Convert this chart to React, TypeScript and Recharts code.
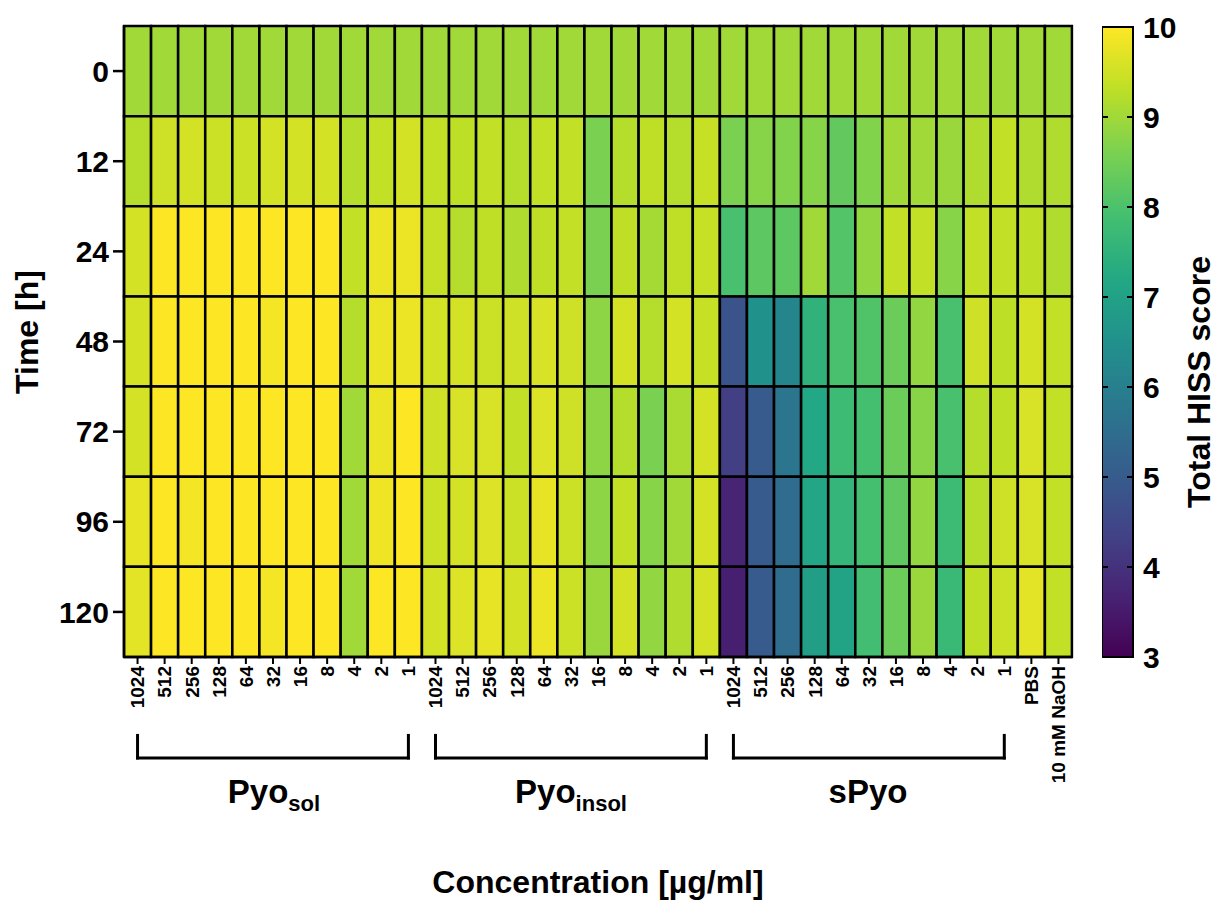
import { BarChart, Bar, Cell, XAxis, YAxis, ReferenceLine } from 'recharts';

const FONT = '"Liberation Sans", Arial, sans-serif';

const concLabels = ['1024', '512', '256', '128', '64', '32', '16', '8', '4', '2', '1'];
const columnLabels = [...concLabels, ...concLabels, ...concLabels, 'PBS', '10 mM NaOH'];
const timeLabels = ['0', '12', '24', '48', '72', '96', '120'];

// Pyo_sol (11) | Pyo_insol (11) | sPyo (11) | PBS | 10 mM NaOH
const score0h = [
  9.0, 9.0, 9.0, 9.0, 9.0, 9.0, 9.0, 9.0, 9.0, 9.0, 9.0,
  9.0, 9.0, 9.0, 9.0, 9.0, 9.0, 9.0, 9.0, 9.0, 9.0, 9.0,
  9.0, 9.0, 9.0, 9.0, 9.0, 9.0, 9.0, 9.0, 9.0, 9.0, 9.0,
  9.0, 9.0,
];
const score12h = [
  9.22, 9.5, 9.55, 9.45, 9.45, 9.55, 9.55, 9.55, 9.22, 9.35, 9.55,
  9.35, 9.3, 9.35, 9.22, 9.35, 9.35, 8.6, 9.22, 9.32, 9.22, 9.4,
  8.6, 8.75, 8.68, 8.75, 8.3, 8.68, 9.0, 9.0, 8.92, 9.15, 9.35,
  9.15, 9.15,
];
const score24h = [
  9.55, 10, 10, 10, 10, 10, 10, 10, 9.35, 9.8, 9.8,
  9.4, 9.22, 9.32, 9.15, 9.32, 9.38, 8.6, 9.32, 9.05, 9.32, 9.4,
  7.95, 8.22, 8.22, 9.0, 8.1, 8.85, 9.35, 9.35, 8.75, 9.35, 9.35,
  9.3, 9.15,
];
const score48h = [
  9.55, 10, 10, 10, 10, 9.9, 10, 10, 9.22, 9.8, 9.8,
  9.55, 9.55, 9.45, 9.5, 9.6, 9.5, 8.8, 9.55, 9.22, 9.55, 9.4,
  4.8, 6.5, 6.15, 7.5, 7.95, 8.05, 8.4, 8.85, 7.95, 9.5, 9.3,
  9.55, 9.35,
];
const score72h = [
  9.55, 10, 10, 10, 10, 10, 10, 10, 9.0, 9.8, 10,
  9.5, 9.6, 9.6, 9.35, 9.65, 9.5, 8.8, 9.22, 8.6, 9.1, 9.55,
  4.3, 5.0, 5.75, 7.2, 7.75, 7.9, 8.4, 8.75, 7.95, 9.22, 9.3,
  9.6, 9.35,
];
const score96h = [
  9.75, 10, 9.9, 10, 10, 10, 10, 10, 9.0, 9.85, 10,
  9.45, 9.55, 9.65, 9.45, 9.75, 9.45, 8.8, 9.35, 8.75, 9.0, 9.55,
  3.7, 5.0, 5.45, 7.15, 7.6, 7.9, 8.25, 8.85, 7.75, 9.22, 9.5,
  9.6, 9.35,
];
const score120h = [
  9.7, 10, 10, 10, 10, 9.9, 10, 10, 9.0, 10, 10,
  9.55, 9.65, 9.75, 9.55, 9.8, 9.45, 8.92, 9.55, 8.85, 9.15, 9.55,
  3.6, 5.0, 5.45, 6.9, 7.05, 7.85, 8.4, 8.92, 7.7, 9.3, 9.45,
  9.7, 9.35,
];
const scoreRows = [score0h, score12h, score24h, score48h, score72h, score96h, score120h];

const scoreMin = 3;
const scoreMax = 10;
const scoreTicks = [3, 4, 5, 6, 7, 8, 9, 10];

// column spans of the three bracketed groups
const groupSpans = [
  { from: 0, to: 10, name: 'Pyo', sub: 'sol', center: 274 },
  { from: 11, to: 21, name: 'Pyo', sub: 'insol', center: 571 },
  { from: 22, to: 32, name: 'sPyo', sub: '', center: 868 },
];

const viridisStops = [
  '#440154', '#482475', '#414487', '#355f8d', '#2a788e', '#21918c',
  '#22a884', '#44bf70', '#7ad151', '#bddf26', '#fde725',
];

function viridis(v: number) {
  const t = Math.min(1, Math.max(0, (v - scoreMin) / (scoreMax - scoreMin)));
  const pos = t * (viridisStops.length - 1);
  const i = Math.min(viridisStops.length - 2, Math.floor(pos));
  const f = pos - i;
  const a = viridisStops[i];
  const b = viridisStops[i + 1];
  const ch = (hex: string, k: number) => parseInt(hex.slice(1 + 2 * k, 3 + 2 * k), 16);
  const out = [0, 1, 2].map((k) => Math.round(ch(a, k) + (ch(b, k) - ch(a, k)) * f));
  return `rgb(${out[0]},${out[1]},${out[2]})`;
}

const columns = columnLabels.map((label, col) => ({ col, label }));
const timeTicks = timeLabels.map((_, i) => i + 0.5);
// every cell is one row tall; one stable accessor per row so the stack keeps them apart
const rowKeys = timeLabels.map(() => () => 1);
const colorbarData = [{ name: 'scale', span: [scoreMin, scoreMax] }];

const bracketTop = 7.87;
const bracketBase = 8.12;

const ColumnTick = (props: any) => {
  const { x, y, payload } = props;
  return (
    <text
      x={x}
      y={y}
      transform={`rotate(-90, ${x}, ${y})`}
      textAnchor="end"
      dy="0.36em"
      fontSize={19}
      fontWeight="bold"
      fontFamily={FONT}
      fill="#000"
    >
      {columnLabels[payload.value]}
    </text>
  );
};

const ScaleTick = (props: any) => {
  const { x, y, payload } = props;
  const axisX = x - 10;
  return (
    <g>
      <line x1={axisX - 31} x2={axisX - 25} y1={y} y2={y} stroke="#000" strokeWidth={2} />
      <line x1={axisX - 6} x2={axisX} y1={y} y2={y} stroke="#000" strokeWidth={2} />
      <text x={x} y={y} dy="0.36em" textAnchor="start" fontSize={30} fontWeight="bold" fontFamily={FONT} fill="#000">
        {payload.value}
      </text>
    </g>
  );
};

const titleStyle = {
  position: 'absolute' as const,
  fontFamily: FONT,
  fontWeight: 'bold' as const,
  fontSize: 32,
  lineHeight: '32px',
  color: '#000',
  whiteSpace: 'nowrap' as const,
  textAlign: 'center' as const,
};

export default function App() {
  return (
    <div style={{ position: 'absolute', left: 0, top: 0, width: 1217, height: 900, background: '#fff', overflow: 'hidden' }}>
      <BarChart
        width={1217}
        height={900}
        data={columns}
        margin={{ top: 26, right: 145, bottom: 113, left: 0 }}
        barCategoryGap={0}
        barGap={0}
      >
        <XAxis
          dataKey="col"
          interval={0}
          height={130}
          tickSize={7}
          tickMargin={2}
          axisLine={{ stroke: '#000', strokeWidth: 2.5 }}
          tickLine={{ stroke: '#000', strokeWidth: 2 }}
          tick={(p: any) => <ColumnTick {...p} />}
        />
        <YAxis
          type="number"
          domain={[0, timeLabels.length]}
          reversed
          ticks={timeTicks}
          tickFormatter={(v: number) => timeLabels[Math.floor(v)]}
          width={124}
          tickSize={11}
          tickMargin={4}
          axisLine={{ stroke: '#000', strokeWidth: 2.5 }}
          tickLine={{ stroke: '#000', strokeWidth: 2.5 }}
          tick={{ fontSize: 30, fontWeight: 'bold', fill: '#000', fontFamily: FONT }}
        />
        {scoreRows.map((row, r) => (
          <Bar
            key={timeLabels[r]}
            dataKey={rowKeys[r]}
            stackId="grid"
            isAnimationActive={false}
            stroke="#000"
            strokeWidth={2.5}
          >
            {row.map((v, c) => (
              <Cell key={c} fill={viridis(v)} />
            ))}
          </Bar>
        ))}
        {groupSpans.map((g) => (
          <ReferenceLine
            key={`l${g.from}`}
            segment={[{ x: g.from, y: bracketTop }, { x: g.from, y: bracketBase }]}
            stroke="#000"
            strokeWidth={3}
            strokeLinecap="square"
            ifOverflow="visible"
          />
        ))}
        {groupSpans.map((g) => (
          <ReferenceLine
            key={`h${g.from}`}
            segment={[{ x: g.from, y: bracketBase }, { x: g.to, y: bracketBase }]}
            stroke="#000"
            strokeWidth={3}
            strokeLinecap="square"
            ifOverflow="visible"
          />
        ))}
        {groupSpans.map((g) => (
          <ReferenceLine
            key={`r${g.from}`}
            segment={[{ x: g.to, y: bracketTop }, { x: g.to, y: bracketBase }]}
            stroke="#000"
            strokeWidth={3}
            strokeLinecap="square"
            ifOverflow="visible"
          />
        ))}
      </BarChart>

      <div style={{ position: 'absolute', left: 1102, top: 0 }}>
        <BarChart
          width={111}
          height={900}
          data={colorbarData}
          margin={{ top: 27, right: 0, bottom: 243, left: 0 }}
          barCategoryGap={0}
        >
          <defs>
            <linearGradient id="viridisGrad" x1="0" y1="1" x2="0" y2="0">
              {viridisStops.map((c, i) => (
                <stop key={c} offset={`${(i / (viridisStops.length - 1)) * 100}%`} stopColor={c} />
              ))}
            </linearGradient>
          </defs>
          <XAxis dataKey="name" hide />
          <YAxis
            orientation="right"
            type="number"
            domain={[scoreMin, scoreMax]}
            ticks={scoreTicks}
            width={80}
            tickSize={0}
            tickMargin={10}
            axisLine={false}
            tickLine={false}
            tick={(p: any) => <ScaleTick {...p} />}
          />
          <Bar dataKey="span" fill="url(#viridisGrad)" stroke="#000" strokeWidth={2} isAnimationActive={false} />
        </BarChart>
      </div>

      <div style={{ ...titleStyle, left: -73, top: 316, width: 200, transform: 'rotate(-90deg)' }}>Time [h]</div>
      <div style={{ ...titleStyle, left: 1049, top: 366, width: 300, transform: 'rotate(-90deg)' }}>
        Total HISS score
      </div>
      <div style={{ ...titleStyle, left: 398, top: 866, width: 400 }}>Concentration [µg/ml]</div>
      {groupSpans.map((g) => (
        <div key={g.center} style={{ ...titleStyle, fontSize: 33, left: g.center - 150, top: 776, width: 300 }}>
          {g.name}
          {g.sub && <span style={{ fontSize: 22, position: 'relative', top: 8 }}>{g.sub}</span>}
        </div>
      ))}
    </div>
  );
}
